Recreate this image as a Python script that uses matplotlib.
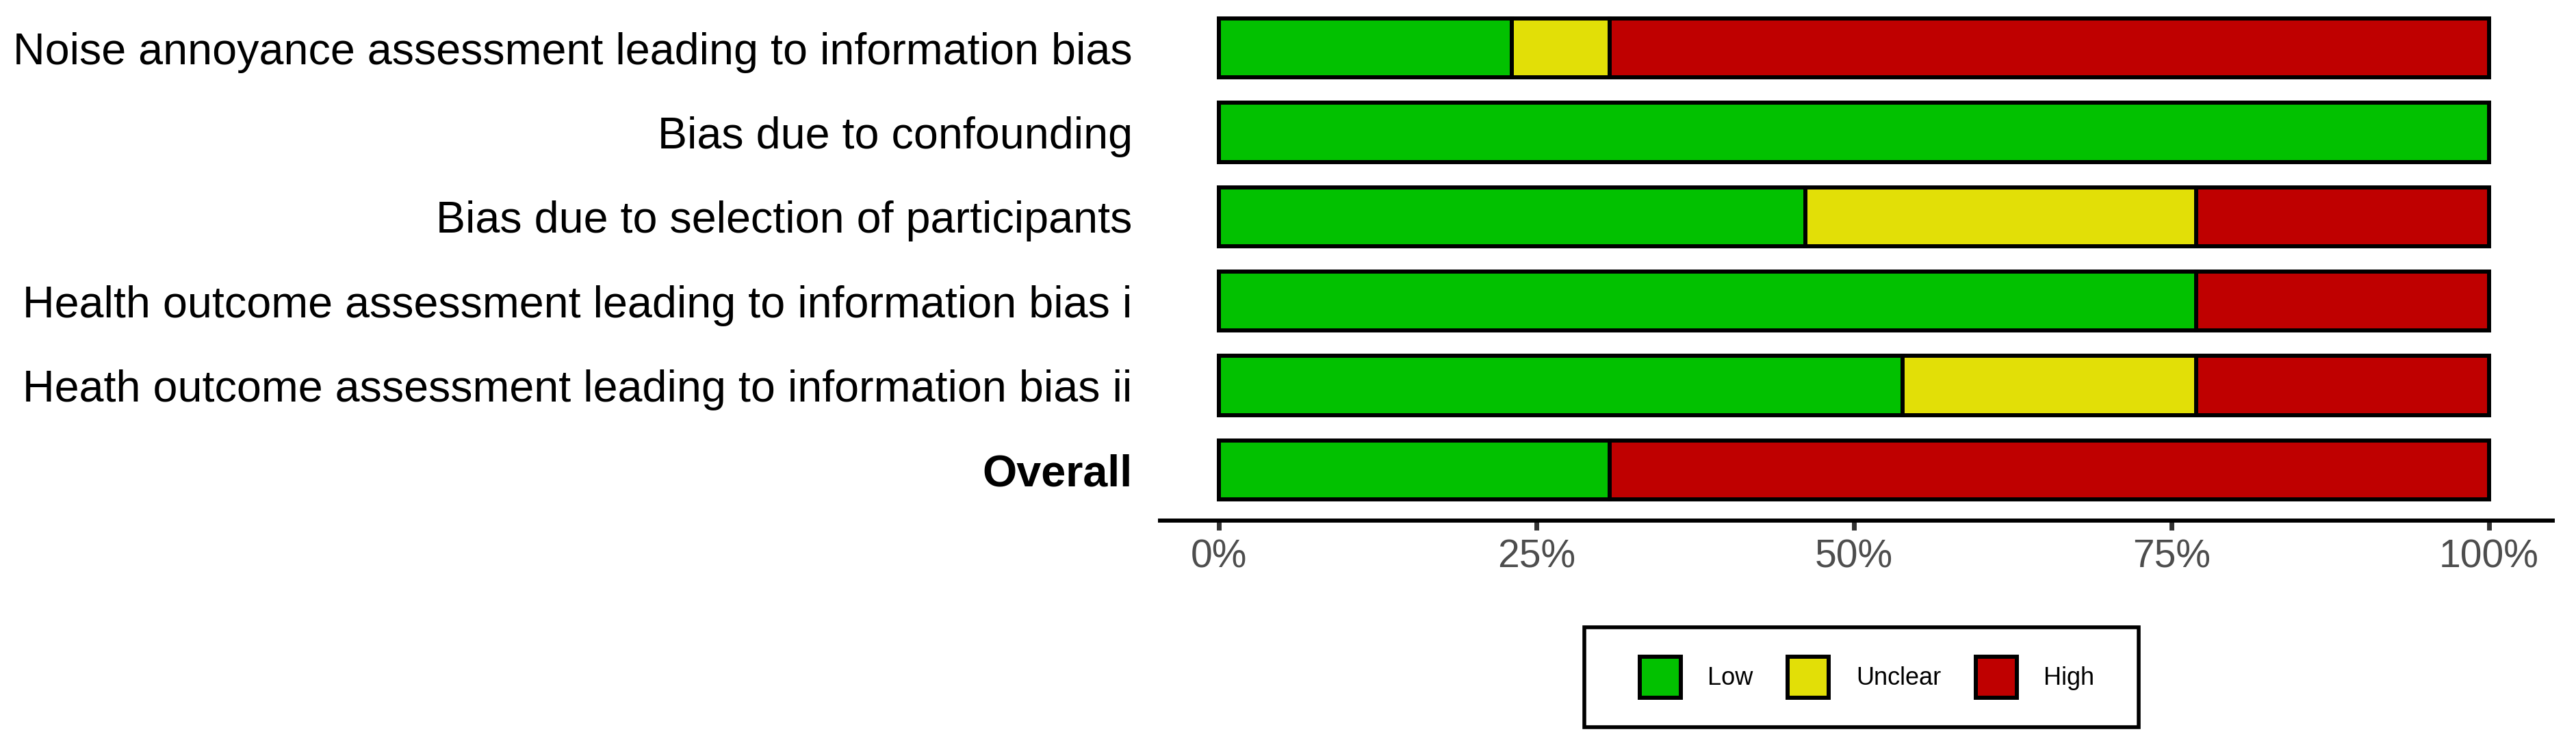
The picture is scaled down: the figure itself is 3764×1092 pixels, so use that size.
import matplotlib
matplotlib.use("Agg")
import matplotlib.pyplot as plt
from matplotlib.patches import Patch, Rectangle
import numpy as np

plt.rcParams["font.family"] = ["Liberation Sans", "DejaVu Sans"]

# ---- data (counts of studies per judgement, 13 studies) ----
domains = [
    "Noise annoyance assessment leading to information bias",
    "Bias due to confounding",
    "Bias due to selection of participants",
    "Health outcome assessment leading to information bias i",
    "Heath outcome assessment leading to information bias ii",
    "Overall",
]
n_studies = 13
low_counts = [3, 13, 6, 10, 7, 4]
unclear_counts = [1, 0, 4, 0, 3, 0]
high_counts = [9, 0, 3, 3, 3, 9]
judgements = ["Low", "Unclear", "High"]
colors = ["#02C100", "#E2DF07", "#BF0000"]
xticks = [0, 0.25, 0.5, 0.75, 1.0]
xticklabels = ["0%", "25%", "50%", "75%", "100%"]

W, H, DPI = 3764, 1092, 100
fig = plt.figure(figsize=(W / DPI, H / DPI), dpi=DPI, facecolor="white")


def fx(x):
    return x / W


def fy(y):
    return 1 - y / H


ax = fig.add_axes([fx(1695), fy(761), (3730 - 1695) / W, 765 / H])

ypos = np.arange(len(domains))
series = [np.array(low_counts) / n_studies,
          np.array(unclear_counts) / n_studies,
          np.array(high_counts) / n_studies]
left = np.zeros(len(domains))
for vals, col, lab in zip(series, colors, judgements):
    mask = vals > 0
    ax.barh(ypos[mask], vals[mask], left=left[mask], height=0.7, color=col,
            edgecolor="black", linewidth=4.3, label=lab)
    left = left + vals

ax.set_xlim(-0.0463, 1.0502)
ax.set_ylim(5.6, -0.6)
ax.set_xticks(xticks)
ax.set_xticklabels(xticklabels)
ax.set_yticks(ypos)
ax.set_yticklabels(domains)
ax.get_yticklabels()[-1].set_fontweight("bold")

for s in ["top", "right", "left"]:
    ax.spines[s].set_visible(False)
ax.spines["bottom"].set_linewidth(4.3)
ax.spines["bottom"].set_color("black")
ax.set_facecolor("white")

ax.tick_params(axis="x", length=10, width=5, color="#333333", pad=9,
               labelsize=41, labelcolor="#4D4D4D")
ax.tick_params(axis="y", length=0, pad=29, labelsize=46.5, labelcolor="black")

handles = [Patch(facecolor=c, edgecolor="black", linewidth=4.3, label=l)
           for c, l in zip(colors, judgements)]
fig.legend(handles=handles, loc="center", bbox_to_anchor=(fx(2728), fy(990)),
           ncol=3, frameon=False, fontsize=26, handlelength=1.66,
           handleheight=2.18, handletextpad=1.1, columnspacing=1.4)
fig.patches.append(Rectangle((fx(2315), fy(1063)), (3125 - 2315) / W,
                             (1063 - 917) / H, transform=fig.transFigure,
                             fill=False, edgecolor="black", linewidth=4))

fig.savefig("out.png", dpi=DPI, facecolor="white")
